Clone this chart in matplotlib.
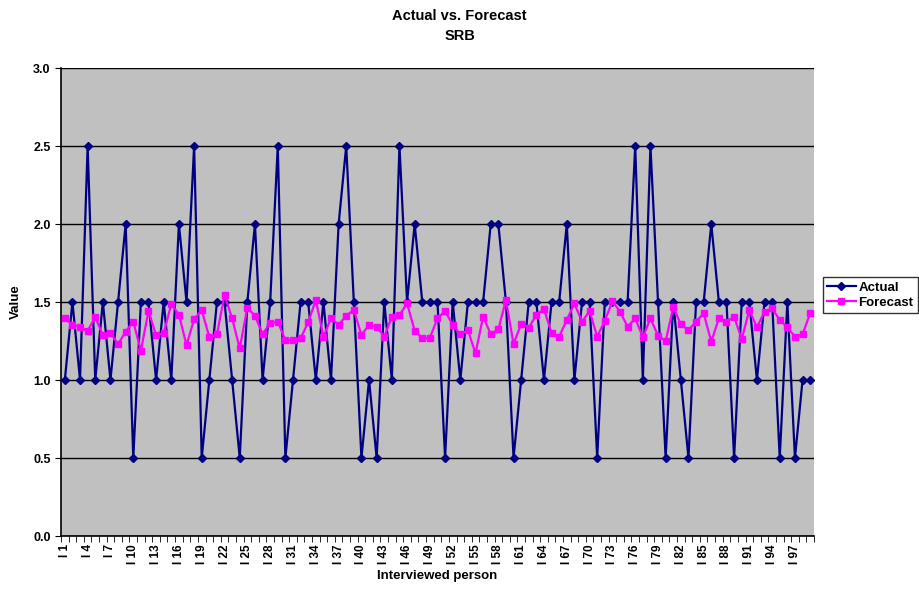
import numpy as np
import matplotlib
matplotlib.use("Agg")
import matplotlib.pyplot as plt

plt.rcParams['font.family'] = ['Liberation Sans', 'DejaVu Sans']
plt.rcParams['font.weight'] = 'bold'

# interviewed persons I 1 .. I 99
persons = ["I %d" % i for i in range(1, 100)]

actual = [1.0, 1.5, 1.0, 2.5, 1.0, 1.5, 1.0, 1.5, 2.0, 0.5,
          1.5, 1.5, 1.0, 1.5, 1.0, 2.0, 1.5, 2.5, 0.5, 1.0,
          1.5, 1.5, 1.0, 0.5, 1.5, 2.0, 1.0, 1.5, 2.5, 0.5,
          1.0, 1.5, 1.5, 1.0, 1.5, 1.0, 2.0, 2.5, 1.5, 0.5,
          1.0, 0.5, 1.5, 1.0, 2.5, 1.5, 2.0, 1.5, 1.5, 1.5,
          0.5, 1.5, 1.0, 1.5, 1.5, 1.5, 2.0, 2.0, 1.5, 0.5,
          1.0, 1.5, 1.5, 1.0, 1.5, 1.5, 2.0, 1.0, 1.5, 1.5,
          0.5, 1.5, 1.5, 1.5, 1.5, 2.5, 1.0, 2.5, 1.5, 0.5,
          1.5, 1.0, 0.5, 1.5, 1.5, 2.0, 1.5, 1.5, 0.5, 1.5,
          1.5, 1.0, 1.5, 1.5, 0.5, 1.5, 0.5, 1.0, 1.0]

forecast = [1.395, 1.353, 1.338, 1.316, 1.402, 1.288, 1.303, 1.229, 1.310, 1.374,
            1.188, 1.442, 1.288, 1.300, 1.487, 1.420, 1.224, 1.389, 1.449, 1.274,
            1.293, 1.545, 1.395, 1.203, 1.464, 1.412, 1.295, 1.363, 1.374, 1.256,
            1.256, 1.267, 1.370, 1.513, 1.278, 1.395, 1.353, 1.412, 1.449, 1.288,
            1.353, 1.342, 1.278, 1.406, 1.417, 1.491, 1.316, 1.267, 1.271, 1.395,
            1.442, 1.353, 1.293, 1.320, 1.171, 1.406, 1.295, 1.325, 1.513, 1.231,
            1.359, 1.335, 1.417, 1.455, 1.300, 1.278, 1.385, 1.491, 1.374, 1.442,
            1.278, 1.380, 1.506, 1.438, 1.342, 1.395, 1.274, 1.395, 1.284, 1.250,
            1.466, 1.357, 1.320, 1.374, 1.427, 1.246, 1.395, 1.374, 1.406, 1.261,
            1.449, 1.338, 1.438, 1.459, 1.385, 1.338, 1.278, 1.293, 1.427]

x = np.arange(1, len(persons) + 1)

fig = plt.figure(figsize=(9.19, 5.9), dpi=100)
ax = fig.add_axes([0.0664, 0.0915, 0.8193, 0.7932])
ax.set_facecolor('#C0C0C0')

ax.plot(x, actual, color='#000080', lw=1.6, marker='D', ms=4.5,
        mfc='#000080', mec='#000080', label='Actual', zorder=3)
ax.plot(x, forecast, color='#FF00FF', lw=1.6, marker='s', ms=5,
        mfc='#FF00FF', mec='#FF00FF', label='Forecast', zorder=4)

ax.set_xlim(0.5, len(persons) + 0.5)
ax.set_ylim(0, 3.0)
ax.set_yticks(np.arange(0, 3.01, 0.5))
ax.set_yticklabels(["%.1f" % v for v in np.arange(0, 3.01, 0.5)], fontsize=9, fontweight='bold')
ax.yaxis.grid(True, color='black', lw=1)
ax.set_axisbelow(True)

ax.set_xticks(x[::3])
ax.set_xticklabels(persons[::3], rotation=90, fontsize=8.5, fontweight='bold')
ax.set_xticks(np.arange(0.5, len(persons) + 1, 1), minor=True)
ax.tick_params(axis='x', which='major', length=0, pad=6)
ax.tick_params(axis='x', which='minor', length=4, direction='out', color='black')
ax.tick_params(axis='y', length=4, direction='out')

for s in ['top', 'right']:
    ax.spines[s].set_visible(False)
ax.spines['left'].set_linewidth(1.2)
ax.spines['bottom'].set_linewidth(1.2)

ax.set_xlabel('Interviewed person', fontsize=9.5, fontweight='bold', labelpad=4)
ax.set_ylabel('Value', fontsize=9.5, fontweight='bold', labelpad=8)
fig.suptitle('Actual vs. Forecast\nSRB', fontsize=10.5, fontweight='bold', y=0.985,
             linespacing=1.55)

leg = fig.legend(loc='center left', bbox_to_anchor=(0.8955, 0.5), fontsize=9.5,
                 frameon=True, fancybox=False, edgecolor='black', borderaxespad=0,
                 handlelength=2.2, borderpad=0.3, labelspacing=0.2, handletextpad=0.2)
leg.get_frame().set_linewidth(1)

fig.savefig('out.png', dpi=100)
